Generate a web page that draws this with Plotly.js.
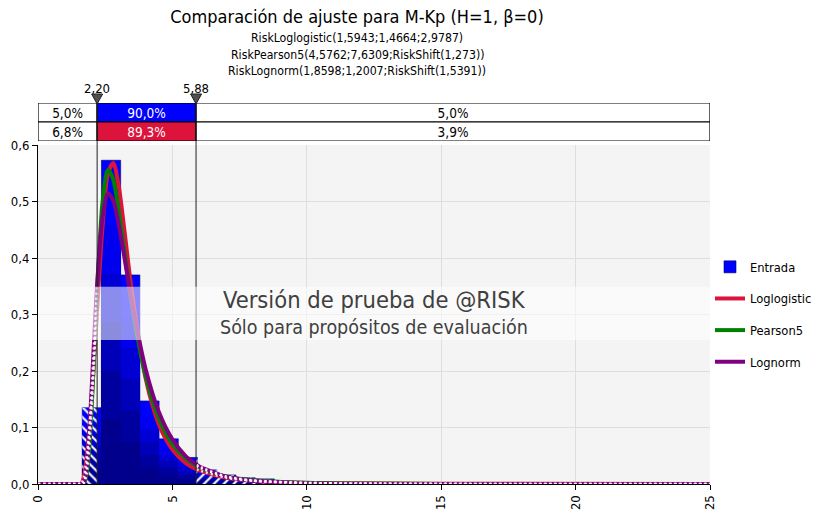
<!DOCTYPE html>
<html><head><meta charset="utf-8">
<script src="https://cdn.plot.ly/plotly-3.0.1.min.js"></script>
<style>html,body{margin:0;padding:0;background:#fff;} #chart{width:813px;height:513px;}</style>
</head><body><div id="chart"></div>
<script>
// ---- data ----
const binEdges = [1.645, 2.36, 3.075, 3.79, 4.505, 5.22, 5.935, 6.65, 7.365, 8.08, 8.795, 9.51, 10.225, 10.94, 11.655, 12.37, 13.085];
const binDensity = [0.135, 0.573, 0.370, 0.147, 0.080, 0.047, 0.025, 0.016, 0.011, 0.009, 0.004, 0.003, 0.002, 0.0015, 0.001, 0.001];

const curveX      = [0, 1.5, 1.6, 1.7, 1.8, 1.9, 2.0, 2.2, 2.4, 2.6, 2.8, 3.0, 3.2, 3.5, 4.0, 4.5, 5.0, 5.5, 5.9, 6.0, 7.0, 8.0, 10.0, 12.0, 15.0, 25.0];
const loglogistic = [0, 0, 0, 0.011, 0.042, 0.090, 0.153, 0.308, 0.455, 0.549, 0.568, 0.528, 0.455, 0.337, 0.188, 0.105, 0.061, 0.037, 0.026, 0.024, 0.011, 0.0056, 0.0019, 0.0009, 0.0003, 0];
const pearson5    = [0, 0, 0, 0.0017, 0.0155, 0.059, 0.138, 0.343, 0.498, 0.556, 0.539, 0.484, 0.416, 0.316, 0.192, 0.116, 0.071, 0.045, 0.032, 0.029, 0.0132, 0.0066, 0.0020, 0.0008, 0.0002, 0];
const lognorm     = [0, 0, 0, 0.0025, 0.026, 0.086, 0.173, 0.353, 0.471, 0.514, 0.502, 0.460, 0.405, 0.320, 0.204, 0.127, 0.079, 0.049, 0.034, 0.031, 0.013, 0.0058, 0.0013, 0.0004, 0.0001, 0];

const seriesNames = ['Loglogistic', 'Pearson5', 'Lognorm'];
const delimiters = [2.20, 5.88];
const delimiterLabels = ['2,20', '5,88'];
const statLeft = ['5,0%', '6,8%'];
const statMid = ['90,0%', '89,3%'];
const statRight = ['5,0%', '3,9%'];

const titleText = 'Comparación de ajuste para M-Kp (H=1, β=0)';
const subtitleLines = ['RiskLoglogistic(1,5943;1,4664;2,9787)', 'RiskPearson5(4,5762;7,6309;RiskShift(1,273))', 'RiskLognorm(1,8598;1,2007;RiskShift(1,5391))'];

// ---- styling ----
const FONT = 'DejaVu Sans Condensed, DejaVu Sans, sans-serif';
const XMAX = 25;
const colors = ['#dc143c', '#008000', '#800080'];

const centers = binDensity.map((_, i) => (binEdges[i] + binEdges[i + 1]) / 2);
const widths = binDensity.map((_, i) => binEdges[i + 1] - binEdges[i]);

const traces = [];
// gradient layers for histogram bars
const layerFrac = [1, 0.8, 0.65, 0.5, 0.35, 0.2];
const layerCol = ['#0000ff', '#0000ee', '#0000d4', '#0000b8', '#00009e', '#00008c'];
layerFrac.forEach((f, k) => {
  traces.push({
    type: 'bar', x: centers, y: binDensity.map(v => v * f), width: widths,
    marker: {color: layerCol[k], line: {width: k === 0 ? 0.6 : 0, color: '#000070'}},
    name: 'Entrada', legendgroup: 'g0', showlegend: k === 0, hoverinfo: 'skip'
  });
});

function stepOutline(a, b) {
  const xs = [], ys = [];
  let first = true, lastHi = null;
  for (let i = 0; i < binDensity.length; i++) {
    const lo = Math.max(binEdges[i], a), hi = Math.min(binEdges[i + 1], b);
    if (hi <= lo) continue;
    if (first) { xs.push(lo); ys.push(0); first = false; }
    xs.push(lo, hi); ys.push(binDensity[i], binDensity[i]);
    lastHi = hi;
  }
  xs.push(lastHi); ys.push(0);
  xs.push(xs[0]); ys.push(0);
  return {xs, ys};
}
[[0, delimiters[0], '\\'], [delimiters[1], XMAX, '/']].forEach(([a, b, sh]) => {
  const o = stepOutline(a, b);
  traces.push({
    type: 'scatter', x: o.xs, y: o.ys, mode: 'none', fill: 'toself',
    fillcolor: 'rgba(0,0,0,0)',
    fillpattern: {shape: sh, fgcolor: '#ffffff', bgcolor: 'rgba(0,0,0,0)', size: 7, solidity: 0.3},
    showlegend: false, hoverinfo: 'skip'
  });
});

const curves = [loglogistic, pearson5, lognorm];
curves.forEach((ys, k) => {
  traces.push({
    type: 'scatter', mode: 'lines', x: curveX, y: ys, name: seriesNames[k],
    line: {color: colors[k], width: 4, shape: 'spline', smoothing: 0.8},
    legendgroup: 'g' + (k + 1)
  });
});
// white hatch-like dashes on curve parts outside the delimiters
curves.forEach((ys, k) => {
  [(x) => x <= delimiters[0], (x) => x >= delimiters[1]].forEach((cond) => {
    const xx = [], yy = [];
    curveX.forEach((x, i) => { if (cond(x)) { xx.push(x); yy.push(ys[i]); } });
    traces.push({
      type: 'scatter', mode: 'lines', x: xx, y: yy, showlegend: false, hoverinfo: 'skip',
      line: {color: 'rgba(255,255,255,0.85)', width: 2.5, dash: '2px,3px', shape: 'spline', smoothing: 0.8}
    });
  });
});

// stats bars (top)
const rowY = [1, 0];
const statCommon = {type: 'bar', orientation: 'h', yaxis: 'y2', y: rowY, width: 1,
  textposition: 'inside', insidetextanchor: 'middle', constraintext: 'none',
  showlegend: false, hoverinfo: 'skip'};
traces.push(Object.assign({}, statCommon, {
  base: [0, 0], x: [delimiters[0], delimiters[0]], text: statLeft,
  textfont: {color: '#000', size: 13.5, family: FONT}, marker: {color: '#fff', line: {color: '#000', width: 1.2}}
}));
traces.push(Object.assign({}, statCommon, {
  base: [delimiters[0], delimiters[0]], x: [delimiters[1] - delimiters[0], delimiters[1] - delimiters[0]], text: statMid,
  textfont: {color: '#fff', size: 13.5, family: FONT}, marker: {color: ['#0000ff', '#dc143c'], line: {color: '#000', width: 1.2}}
}));
traces.push(Object.assign({}, statCommon, {
  base: [delimiters[1], delimiters[1]], x: [XMAX - delimiters[1], XMAX - delimiters[1]], text: statRight,
  textfont: {color: '#000', size: 13.5, family: FONT}, marker: {color: '#fff', line: {color: '#000', width: 1.2}}
}));

const pxToPaper = (py) => (484 - py) / 381;
const shapes = delimiters.map(d => ({
  type: 'line', xref: 'x', yref: 'paper', x0: d, x1: d, y0: 0, y1: pxToPaper(99),
  line: {color: '#202020', width: 1}, layer: 'above'
}));
delimiters.forEach(d => {
  shapes.push({type: 'path', xref: 'x', yref: 'paper', xsizemode: 'pixel', ysizemode: 'pixel',
    xanchor: d, yanchor: pxToPaper(104), path: 'M -5.5 10 L 5.5 10 L 0 0 Z',
    fillcolor: '#505050', line: {color: '#202020', width: 1}, layer: 'above'});
});
shapes.push({type: 'rect', xref: 'paper', yref: 'y', x0: 0, x1: 1, y0: 0.255, y1: 0.349,
  fillcolor: 'rgba(255,255,255,0.55)', line: {width: 0}, layer: 'above'});

const annotations = subtitleLines.map((t, i) => ({
  text: t, xref: 'paper', yref: 'paper', x: (357 - 38) / 672, y: pxToPaper([38, 54.5, 71][i]),
  xanchor: 'center', yanchor: 'middle', showarrow: false, font: {size: 12.2, color: '#000', family: FONT}
}));
delimiters.forEach((d, i) => {
  annotations.push({text: delimiterLabels[i], xref: 'x', yref: 'paper', x: d, y: pxToPaper(88), xanchor: 'center', yanchor: 'middle',
    showarrow: false, font: {size: 13, color: '#000', family: FONT}});
});
annotations.push({text: 'Versión de prueba de @RISK', xref: 'paper', yref: 'paper', x: 0.5, y: pxToPaper(300),
  xanchor: 'center', yanchor: 'middle', showarrow: false, font: {size: 23.5, color: '#404040', family: FONT}});
annotations.push({text: 'Sólo para propósitos de evaluación', xref: 'paper', yref: 'paper', x: 0.5, y: pxToPaper(327),
  xanchor: 'center', yanchor: 'middle', showarrow: false, font: {size: 19.5, color: '#404040', family: FONT}});

const layout = {
  width: 813, height: 513,
  margin: {l: 38, r: 103, t: 103, b: 29, pad: 0},
  paper_bgcolor: '#ffffff', plot_bgcolor: '#f4f4f4',
  font: {family: FONT, size: 12, color: '#000'},
  separators: ',.',
  barmode: 'overlay', bargap: 0,
  title: {text: titleText, xref: 'container', yref: 'container', x: 357 / 813, y: 1 - 17 / 513,
    xanchor: 'center', yanchor: 'middle', font: {size: 18, color: '#000', family: FONT}},
  xaxis: {range: [0, XMAX], domain: [0, 1], anchor: 'y', dtick: 5, tick0: 0, tickangle: -90,
    ticks: 'outside', ticklen: 5, tickcolor: '#000', showline: true, linecolor: '#000', linewidth: 1,
    gridcolor: '#dedede', zeroline: false, tickfont: {size: 13}, automargin: false},
  yaxis: {domain: [0, pxToPaper(145)], range: [0, 0.6], dtick: 0.1, tickformat: '.1f',
    ticks: 'outside', ticklen: 5, tickcolor: '#000', showline: true, linecolor: '#000', linewidth: 1,
    gridcolor: '#dedede', zeroline: false, tickfont: {size: 13}, automargin: false},
  yaxis2: {domain: [pxToPaper(141), 1], range: [-0.5, 1.5], anchor: 'x', visible: false, fixedrange: true},
  legend: {xref: 'container', yref: 'container', x: 710 / 813, xanchor: 'left', y: 1 - 252 / 513, yanchor: 'top',
    traceorder: 'grouped', tracegroupgap: 12, bgcolor: 'rgba(0,0,0,0)', itemwidth: 30,
    font: {size: 12.8, color: '#000', family: FONT}},
  shapes, annotations
};

Plotly.newPlot('chart', traces, layout, {displayModeBar: false, staticPlot: true});
</script>
</body></html>
